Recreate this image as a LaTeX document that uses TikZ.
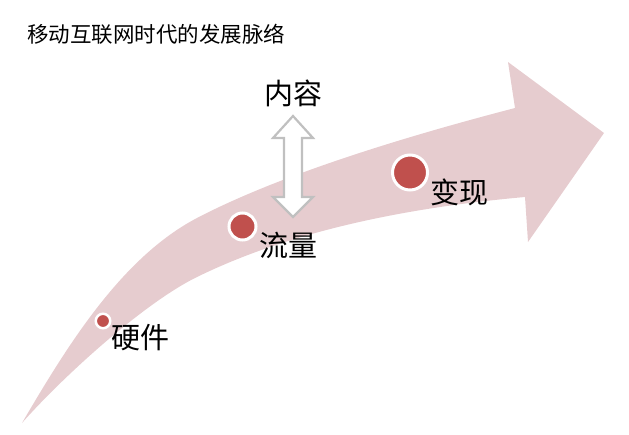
\documentclass[tikz,border=0pt]{standalone}
\usepackage{fontspec}
\setmainfont{Noto Sans CJK SC}
\begin{document}
\begin{tikzpicture}[x=1pt,y=-1pt,
  band/.style={fill={rgb,255:red,230;green,204;blue,207}},
  dot/.style={circle,fill={rgb,255:red,192;green,80;blue,77},draw=white,inner sep=0pt},
  lbl/.style={inner sep=0pt,font=\fontsize{29}{29}\selectfont},
  ttl/.style={inner sep=0pt,anchor=west,font=\fontsize{21.5}{21.5}\selectfont},
  dbl/.style={fill=white,draw={rgb,255:red,192;green,192;blue,192},line width=2.2pt,line join=miter}]
\useasboundingbox (0,0) rectangle (629,434);
% curved arrow
\fill[band] (22,423)
  .. controls (67.5,345.3) and (121.7,257.4) .. (197,218)
  .. controls (281.2,174) and (408.5,135.7) .. (515,108)
  -- (508,62) -- (604,133) -- (528,242) -- (525,197)
  .. controls (415.4,206.8) and (295.8,228.6) .. (197,277)
  .. controls (143.1,303.4) and (61.6,378) .. (22,423) -- cycle;
% title
\node[ttl] (title) at (27,34) {移动互联网时代的发展脉络};
% double arrow
\draw[dbl] (293,116) -- (313,138) -- (302,138) -- (302,197) -- (313,197) -- (293,217)
  -- (273,197) -- (284,197) -- (284,138) -- (273,138) -- cycle;
\node[lbl] (content) at (293.5,93) {内容};
% dots
\node[dot,line width=2.5pt,minimum size=14.5pt] (d1) at (103,321) {};
\node[dot,line width=3pt,minimum size=27pt] (d2) at (242.5,226.5) {};
\node[dot,line width=3pt,minimum size=35pt] (d3) at (410,172.5) {};
\node[lbl] (l1) at (140,338) {硬件};
\node[lbl] (l2) at (288,245) {流量};
\node[lbl] (l3) at (459.5,192) {变现};
\end{tikzpicture}
\end{document}
